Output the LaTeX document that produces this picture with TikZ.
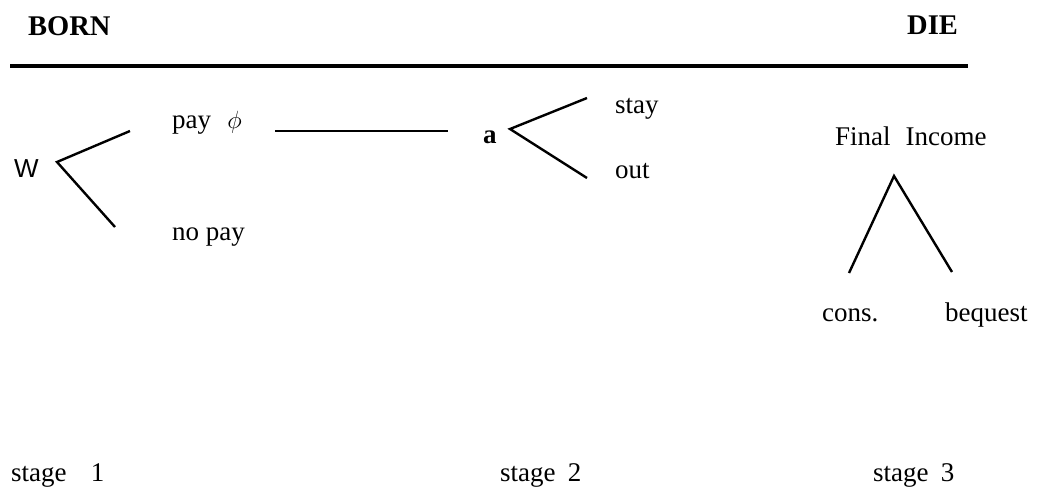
\documentclass[tikz,border=0pt]{standalone}
\usepackage{fontspec}
\setmainfont{Liberation Serif}
\newfontfamily\wsans{Liberation Sans}
\begin{document}
\begin{tikzpicture}[x=1pt,y=-1pt,
  lbl/.style={anchor=base west,inner sep=0pt,font=\fontsize{27}{30}\selectfont},
  hdr/.style={lbl,font=\fontsize{28.5}{30}\selectfont\bfseries},
  branch/.style={line width=2.4pt},
  rule/.style={line width=3.8pt}]
\useasboundingbox (0,0) rectangle (1040,491);
% header
\node[hdr] (born) at (28,35) {BORN};
\node[hdr] (die) at (907,34) {DIE};
\coordinate (ruleL) at (10,66);
\coordinate (ruleR) at (968,66);
\draw[rule] (ruleL) -- (ruleR);
% stage 1
\node[lbl,font=\wsans\fontsize{26}{30}\selectfont] (W) at (14,177) {W};
\coordinate (wv) at (57,162);
\coordinate (wu) at (130,131);
\coordinate (wd) at (115,227);
\draw[branch] (wu) -- (wv) -- (wd);
\node[lbl] (pay) at (172,128) {pay\hspace{0.6em}$\phi$};
\node[lbl] (nopay) at (172,240) {no pay};
\coordinate (hl) at (275,131);
\coordinate (hr) at (448,131);
\draw[line width=1.8pt] (hl) -- (hr);
% stage 2
\node[lbl,font=\fontsize{27}{30}\selectfont\bfseries] (a) at (483,143) {a};
\coordinate (av) at (510,129);
\coordinate (au) at (587,98);
\coordinate (ad) at (587,178);
\draw[branch] (au) -- (av) -- (ad);
\node[lbl] (stay) at (615,113) {stay};
\node[lbl] (out) at (615,178) {out};
% stage 3
\node[lbl] (fi) at (835,145) {Final\hspace{0.55em}Income};
\coordinate (ta) at (894,176);
\coordinate (tl) at (849,273);
\coordinate (tr) at (952,272);
\draw[branch] (tl) -- (ta) -- (tr);
\node[lbl] (cons) at (822,321) {cons.};
\node[lbl] (beq) at (945,321) {bequest};
% stage labels
\node[lbl] (s1) at (11,481) {stage\hspace{0.9em}1};
\node[lbl] (s2) at (500,481) {stage\hspace{0.45em}2};
\node[lbl] (s3) at (873,481) {stage\hspace{0.45em}3};
\end{tikzpicture}
\end{document}
